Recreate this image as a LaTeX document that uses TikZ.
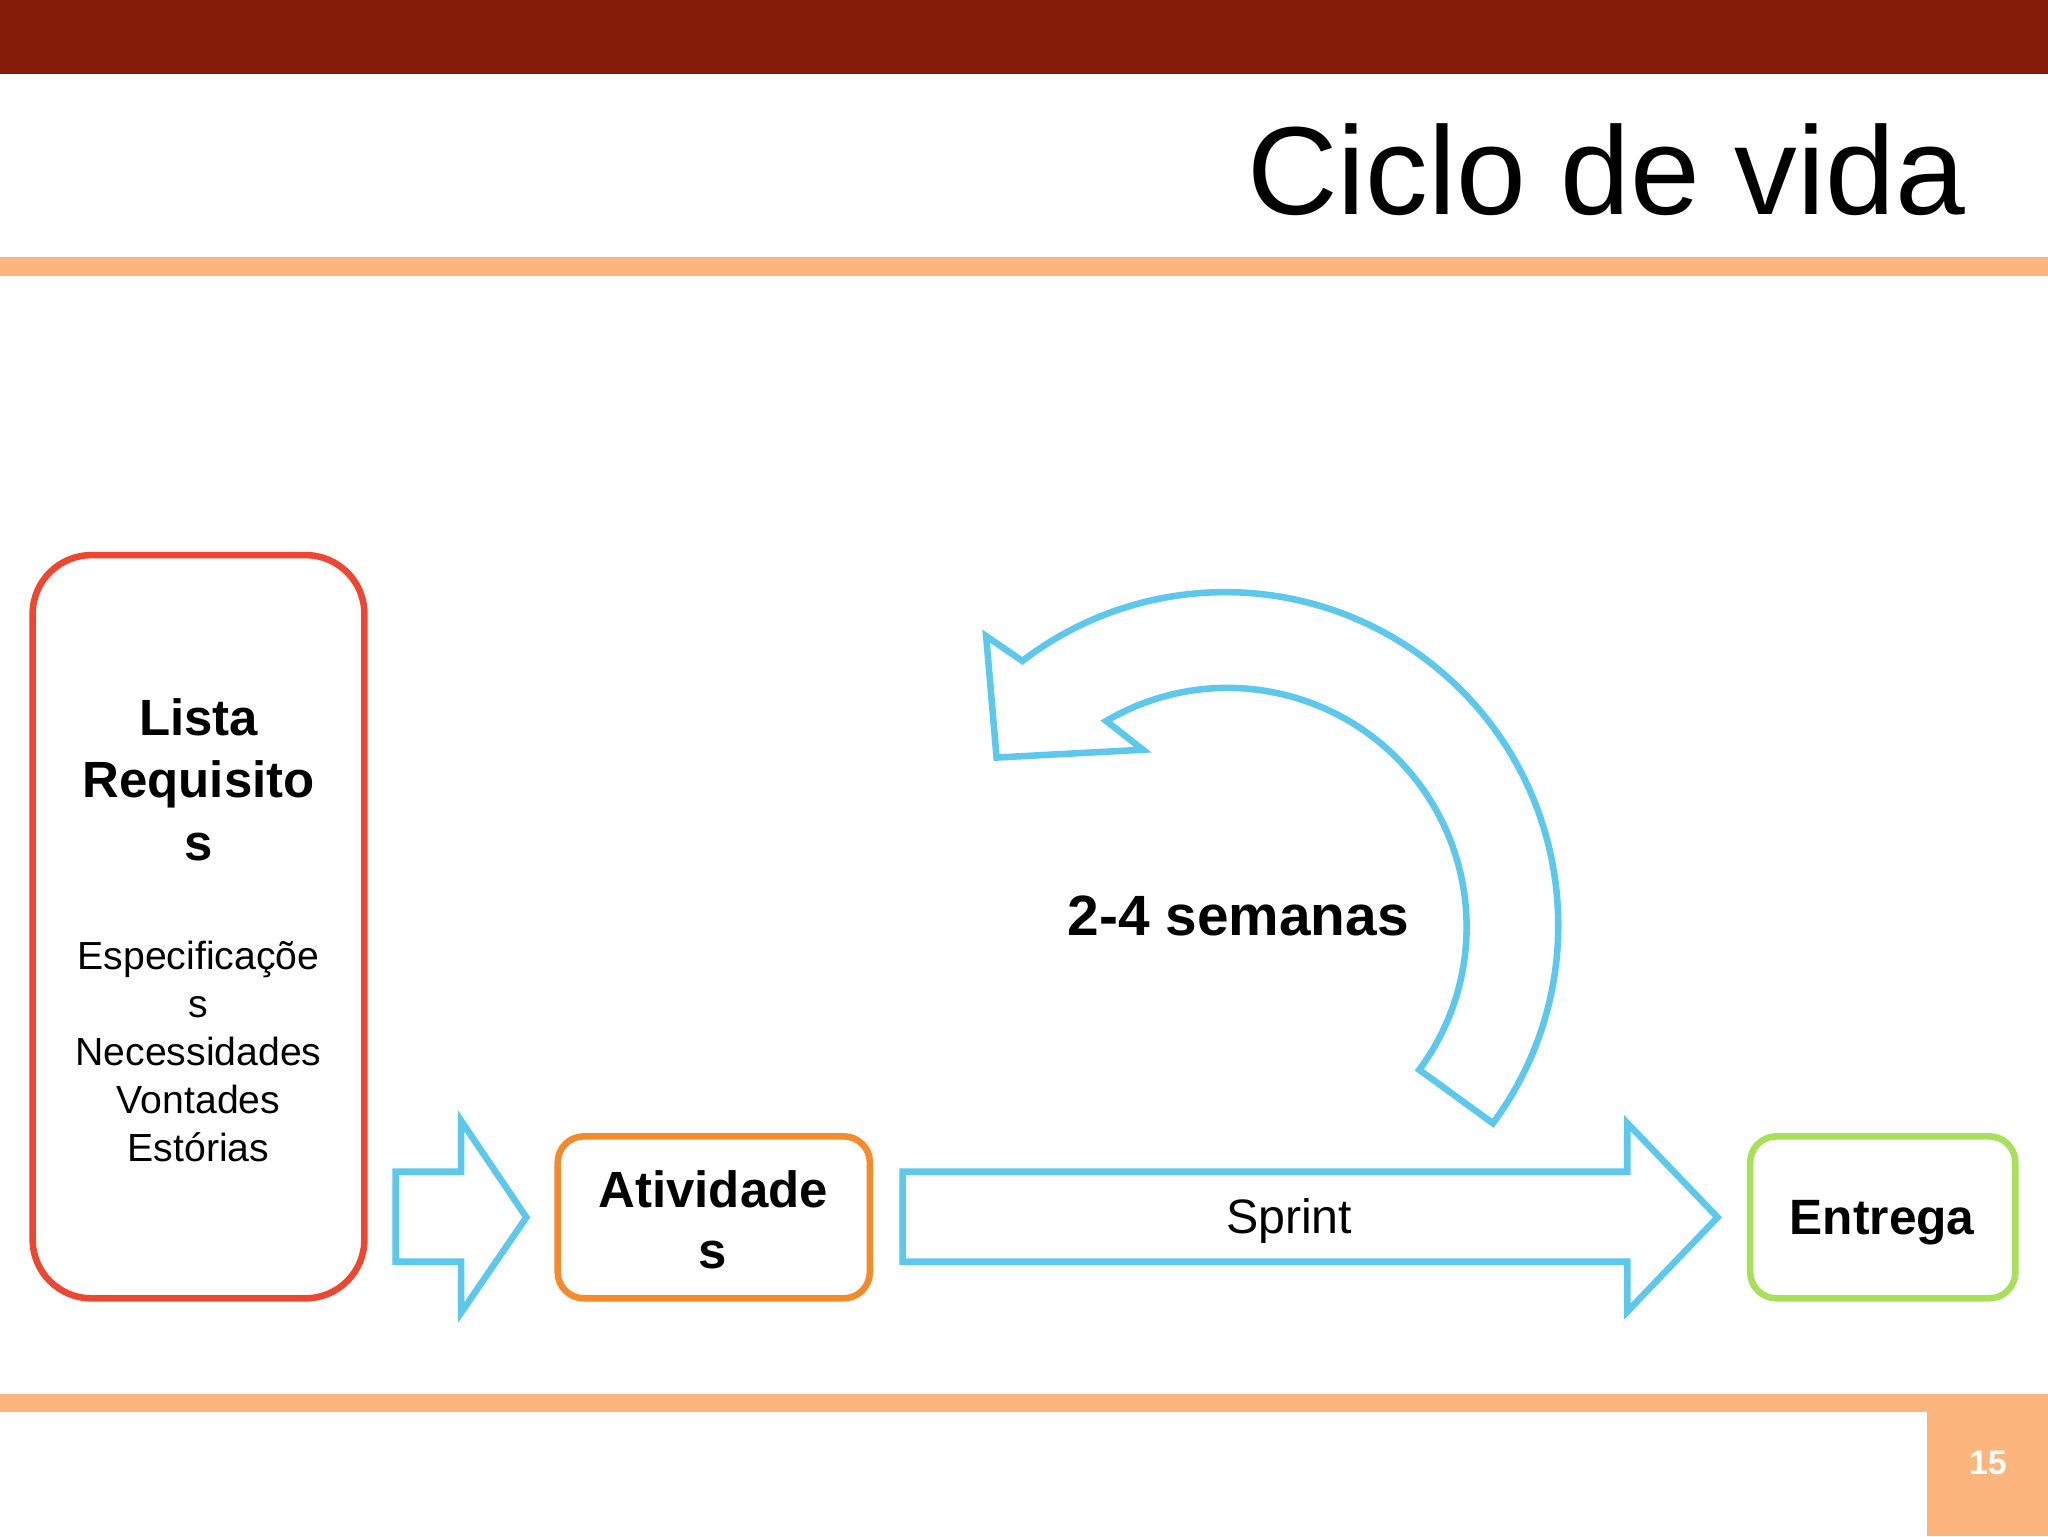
\documentclass[tikz,border=0pt]{standalone}
\usepackage{fontspec}
\setmainfont{Liberation Sans}
\definecolor{topred}{HTML}{841A08}
\definecolor{lineor}{HTML}{FDB57E}
\definecolor{boxred}{HTML}{EE4631}
\definecolor{boxor}{HTML}{F58A2A}
\definecolor{boxgr}{HTML}{A8E05A}
\definecolor{arrb}{HTML}{5BC8EC}
\tikzset{rbox/.style={draw, line width=5pt, rounded corners=#1},
  barrow/.style={draw=arrb, line width=5pt, line join=miter}}
\begin{document}
\begin{tikzpicture}[x=1pt,y=-1pt]
\useasboundingbox (0,0) rectangle (1568,1176);
\fill[white] (0,0) rectangle (1568,1176);
\fill[topred] (0,0) rectangle (1568,57);
\fill[lineor] (0,197) rectangle (1568,211);
\fill[lineor] (0,1067) rectangle (1568,1081);
\fill[lineor] (1475,1081) rectangle (1568,1176);
\node[text=white, font=\bfseries\fontsize{26}{30}\selectfont] (pg) at (1522,1120) {15};
\node[anchor=east, font=\fontsize{96}{100}\selectfont] (title) at (1508,130) {Ciclo de vida};
% boxes
\draw[rbox=45pt, draw=boxred] (25,425) rectangle (279,994);
\node[align=center, font=\bfseries\fontsize{39}{48}\selectfont] (lista) at (152,597) {Lista\\Requisito\\s};
\node[align=center, font=\fontsize{30}{36.8}\selectfont] (espec) at (152,805) {Especificaçõe\\s\\Necessidades\\Vontades\\Estórias};
\draw[rbox=20pt, draw=boxor] (427,870) rectangle (666,994);
\node[align=center, font=\bfseries\fontsize{39}{47}\selectfont] (ativ) at (546,934) {Atividade\\s};
\draw[rbox=20pt, draw=boxgr] (1340,870) rectangle (1543,994);
\node[font=\bfseries\fontsize{38}{44}\selectfont] (entrega) at (1441,936) {Entrega};
% arrows
\draw[barrow] (303,897) -- (353,897) -- (353,858) -- (403,932) -- (353,1005) -- (353,966) -- (303,966) -- cycle;
\draw[barrow] (691,897) -- (1246,897) -- (1246,860) -- (1315,932) -- (1246,1004) -- (1246,966) -- (691,966) -- cycle;
\node[font=\fontsize{37}{42}\selectfont] (sprint) at (987,935) {Sprint};
\draw[barrow] (1143,860) arc[start angle=36.5, end angle=-127.5, radius=255]
  -- (755,487) -- (763,580) -- (875,574) -- (847,552)
  arc[start angle=-120.5, end angle=36.7, radius=183] -- cycle;
\node[font=\bfseries\fontsize{43.5}{48}\selectfont] (sem) at (948,701) {2-4 semanas};
\end{tikzpicture}
\end{document}
